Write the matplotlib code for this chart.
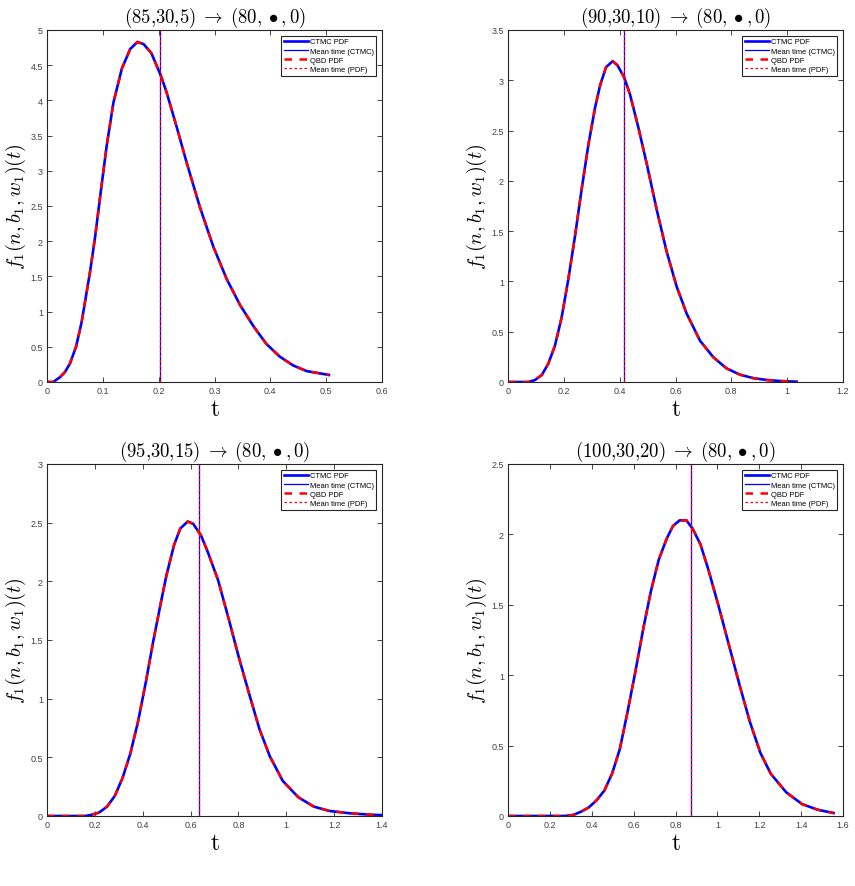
import numpy as np
import matplotlib
matplotlib.use('Agg')
from matplotlib import pyplot as plt
from matplotlib.ticker import FuncFormatter

plt.rcParams['mathtext.fontset'] = 'cm'
plt.rcParams['font.family'] = ['Liberation Sans', 'DejaVu Sans']

# (start state) -> (80, *, 0) first passage PDFs
titles = ['(85,30,5)', '(90,30,10)', '(95,30,15)', '(100,30,20)']

t1 = [0, 0.011, 0.023, 0.032, 0.041, 0.052, 0.062, 0.077, 0.086, 0.098, 0.107, 0.119, 0.134,
      0.149, 0.162, 0.173, 0.187, 0.204, 0.214, 0.232, 0.250, 0.274, 0.298, 0.322, 0.346,
      0.370, 0.393, 0.417, 0.441, 0.465, 0.505]
f1 = [0, 0.0, 0.066, 0.14, 0.26, 0.50, 0.85, 1.56, 2.05, 2.81, 3.36, 3.97, 4.45,
      4.73, 4.83, 4.80, 4.67, 4.35, 4.12, 3.63, 3.12, 2.48, 1.92, 1.46, 1.09,
      0.79, 0.54, 0.36, 0.235, 0.155, 0.10]

t2 = [0, 0.04, 0.073, 0.097, 0.121, 0.144, 0.168, 0.192, 0.216, 0.240, 0.264, 0.288, 0.312,
      0.330, 0.351, 0.375, 0.392, 0.416, 0.437, 0.467, 0.497, 0.533, 0.568, 0.604, 0.640,
      0.688, 0.736, 0.783, 0.831, 0.879, 0.927, 0.974, 1.034]
f2 = [0, 0, 0.0, 0.02, 0.07, 0.18, 0.36, 0.64, 1.02, 1.45, 1.92, 2.36, 2.73,
      2.95, 3.13, 3.19, 3.15, 3.03, 2.86, 2.53, 2.17, 1.71, 1.30, 0.95, 0.68,
      0.41, 0.245, 0.135, 0.073, 0.038, 0.02, 0.01, 0.003]

t3 = [0, 0.1, 0.16, 0.186, 0.218, 0.251, 0.283, 0.315, 0.348, 0.380, 0.413, 0.445, 0.477,
      0.499, 0.531, 0.557, 0.588, 0.611, 0.644, 0.672, 0.715, 0.758, 0.802, 0.845, 0.888,
      0.931, 0.985, 1.050, 1.115, 1.180, 1.266, 1.352, 1.395]
f3 = [0, 0, 0.0, 0.01, 0.03, 0.08, 0.17, 0.32, 0.53, 0.80, 1.14, 1.50, 1.83,
      2.05, 2.31, 2.45, 2.51, 2.49, 2.39, 2.25, 2.01, 1.69, 1.35, 1.04, 0.74,
      0.51, 0.30, 0.16, 0.08, 0.043, 0.023, 0.011, 0.008]

t4 = [0, 0.15, 0.27, 0.31, 0.348, 0.385, 0.422, 0.46, 0.497, 0.534, 0.571, 0.609, 0.646,
      0.683, 0.720, 0.758, 0.788, 0.820, 0.852, 0.882, 0.919, 0.957, 1.006, 1.056, 1.106,
      1.155, 1.205, 1.255, 1.329, 1.404, 1.478, 1.555]
f4 = [0, 0, 0.0, 0.007, 0.03, 0.06, 0.11, 0.18, 0.30, 0.475, 0.74, 1.03, 1.33,
      1.60, 1.82, 1.97, 2.06, 2.10, 2.10, 2.04, 1.93, 1.75, 1.49, 1.21, 0.93,
      0.67, 0.45, 0.30, 0.168, 0.085, 0.045, 0.021]

means = [0.203, 0.4155, 0.635, 0.872]
xlims = [0.6, 1.2, 1.4, 1.6]
xsteps = [0.1, 0.2, 0.2, 0.2]
ylims = [5, 3.5, 3, 2.5]

ts = [t1, t2, t3, t4]
fs = [f1, f2, f3, f4]

W, H = 855, 887
fig = plt.figure(figsize=(W / 100, H / 100), dpi=100)

# axes boxes in pixels: left, top, right, bottom
boxes = [(47, 31, 382, 383), (508, 31, 843, 383),
         (47, 465, 382, 817), (508, 465, 843, 817)]

fmt = FuncFormatter(lambda v, p: '%g' % round(v, 3))

for i in range(4):
    l, tp, r, b = boxes[i]
    ax = fig.add_axes([l / W, 1 - b / H, (r - l) / W, (b - tp) / H])
    ax.plot(ts[i], fs[i], color='#0000ff', lw=1.9, label='CTMC PDF')
    ax.axvline(means[i], color='#0000ff', lw=0.9, label='Mean time (CTMC)')
    ax.plot(ts[i], fs[i], color='#ff0000', lw=1.8, ls=(0, (3, 3)), label='QBD PDF')
    ax.axvline(means[i], color='#ff0000', lw=0.9, ls=(0, (2, 2)), label='Mean time (PDF)')

    ax.set_xlim(0, xlims[i])
    ax.set_ylim(0, ylims[i])
    ax.set_xticks(np.arange(0, xlims[i] + 1e-9, xsteps[i]))
    ax.set_yticks(np.arange(0, ylims[i] + 1e-9, 0.5))
    ax.xaxis.set_major_formatter(fmt)
    ax.yaxis.set_major_formatter(fmt)
    ax.tick_params(direction='in', top=True, right=True, labelsize=6.5,
                   labelcolor='#404040', color='#262626', length=3.5, width=0.6, pad=3)
    for s in ax.spines.values():
        s.set_color('#262626')
        s.set_linewidth(0.8)

    ax.set_title(r'%s$\;\rightarrow\;(80, \bullet, 0)$' % titles[i], fontsize=13.5,
                 family='cmr10', pad=6)
    ax.set_xlabel(r'$\mathrm{t}$', fontsize=17, labelpad=2)
    ax.set_ylabel(r'$f_1(n, b_1, w_1)(t)$', fontsize=14.5, labelpad=2)

    leg = ax.legend(loc='upper right', fontsize=5.4, labelspacing=0.25, borderpad=0.35,
                    handlelength=3.2, handletextpad=0.3, borderaxespad=0.75,
                    fancybox=False, edgecolor='#262626', framealpha=1)
    leg.get_frame().set_linewidth(0.8)

fig.savefig('out.png', dpi=100)
